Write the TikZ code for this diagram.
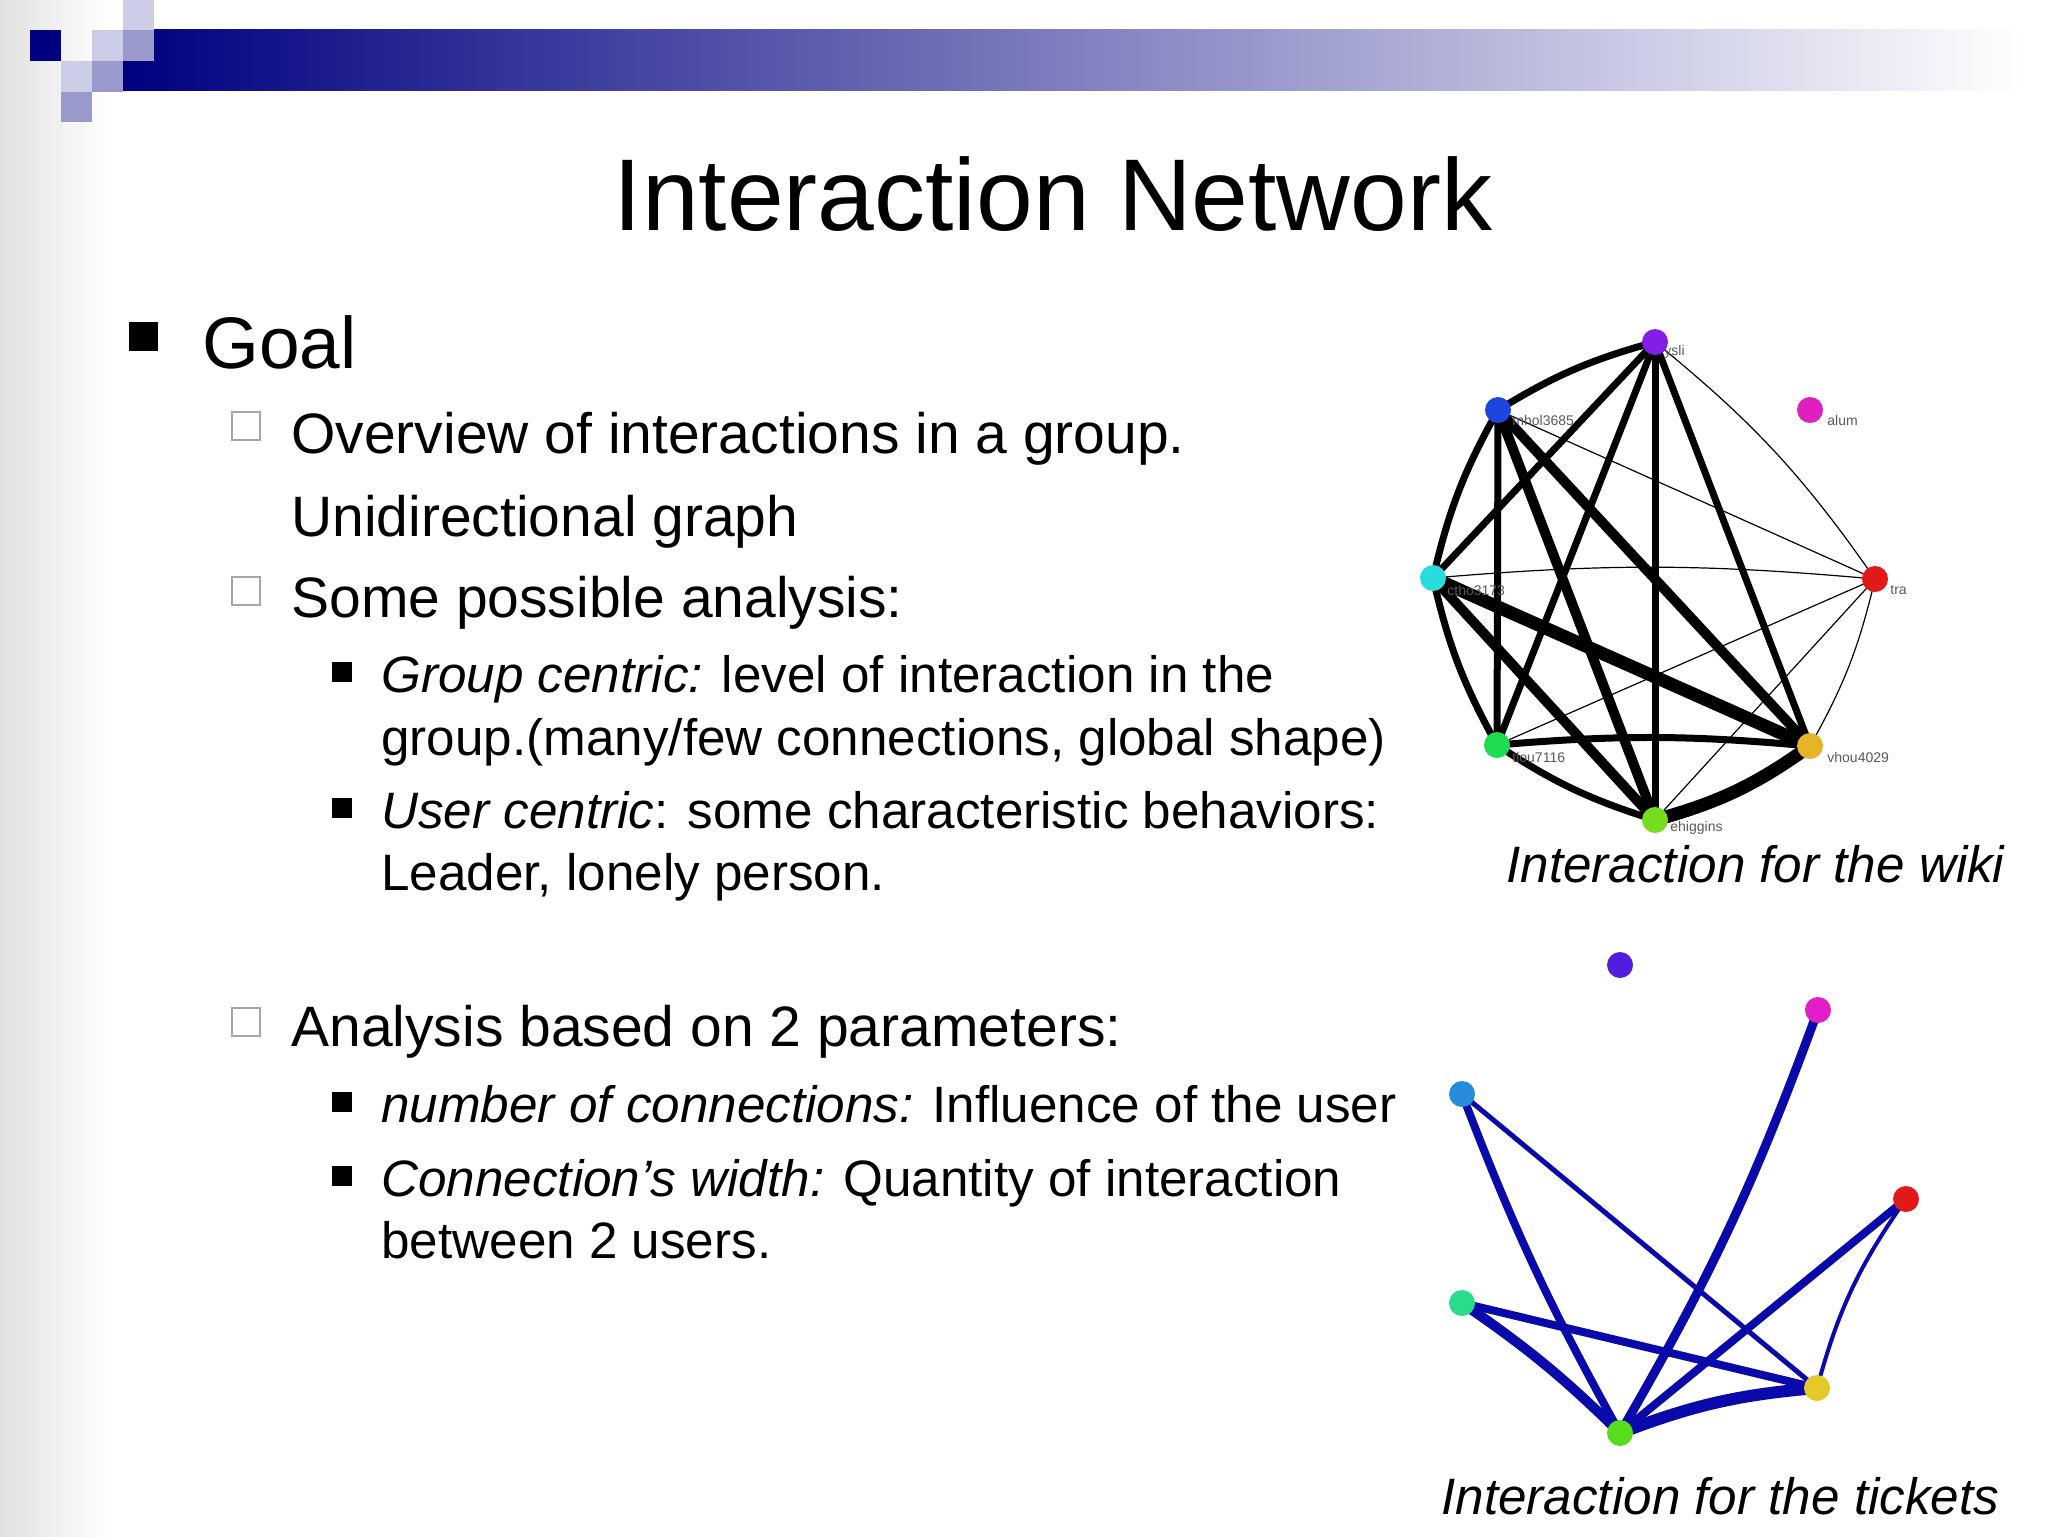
\documentclass[tikz,border=0pt]{standalone}
\usepackage{fontspec}
\setmainfont{Liberation Sans}
\definecolor{navy}{RGB}{0,0,128}
\definecolor{sqlight}{RGB}{204,204,230}
\definecolor{sqmid}{RGB}{153,153,204}
\definecolor{edgeb}{RGB}{10,10,170}
\begin{document}
\begin{tikzpicture}[x=0.5pt,y=-0.5pt,
  gnode/.style={circle,inner sep=0pt,minimum size=13pt},
  glabel/.style={font=\fontsize{7}{8}\selectfont,text=black!65,anchor=west,inner sep=1pt},
  we/.style={line width=3.5pt,black},
  wthick/.style={line width=5pt,black},
  wvthick/.style={line width=6.5pt,black},
  wthin/.style={line width=0.6pt,black},
  te/.style={edgeb,line width=#1},
  t1/.style={anchor=base west,inner sep=0pt,font=\fontsize{36.5}{40}\selectfont},
  t2/.style={anchor=base west,inner sep=0pt,font=\fontsize{28.5}{32}\selectfont},
  t3/.style={anchor=base west,inner sep=0pt,font=\fontsize{25.6}{28}\selectfont},
  captext/.style={anchor=base west,inner sep=0pt,font=\fontsize{25.6}{30}\itshape\selectfont}]
\useasboundingbox (0,0) rectangle (2048,1536);
\fill[white] (0,0) rectangle (2048,1536);
\shade[left color=black!12,right color=white] (0,0) rectangle (110,1536);
% header decoration
\shade[left color=navy,right color=white] (123,30) rectangle (2025,91);
\fill[navy] (30,30) rectangle (61,61);
\fill[sqlight] (92,30) rectangle (123,61);
\fill[sqlight] (123,0) rectangle (154,30);
\fill[sqmid] (123,30) rectangle (154,61);
\fill[sqlight] (61,61) rectangle (92,92);
\fill[sqmid] (92,61) rectangle (123,92);
\fill[sqmid] (61,92) rectangle (92,122);
% title
\node[anchor=base,inner sep=0pt,font=\fontsize{51}{56}\selectfont] (title) at (1053,230) {Interaction Network};
% bullets
\fill (129,322) rectangle (158,351);
\node[t1] (goal) at (202,368) {Goal};
\draw[black!35,line width=1.2pt] (232,412) rectangle (260,440);
\node[t2] (l1) at (291,453) {Overview of interactions in a group.};
\node[t2] (l2) at (291,536) {Unidirectional graph};
\draw[black!35,line width=1.2pt] (232,577) rectangle (260,605);
\node[t2] (l3) at (291,617) {Some possible analysis:};
\fill (332,662) rectangle (352,682);
\node[t3] (l4) at (381,692) {\itshape Group centric:\upshape{} level of interaction in the};
\node[t3] (l5) at (381,755) {group.(many/few connections, global shape)};
\fill (332,798) rectangle (352,818);
\node[t3] (l6) at (381,828) {\itshape User centric\upshape: some characteristic behaviors:};
\node[t3] (l7) at (381,890) {Leader, lonely person.};
\draw[black!35,line width=1.2pt] (232,1008) rectangle (260,1036);
\node[t2] (l8) at (291,1046) {Analysis based on 2 parameters:};
\fill (332,1092) rectangle (352,1112);
\node[t3] (l9) at (381,1122) {\itshape number of connections:\upshape{} Influence of the user};
\fill (332,1166) rectangle (352,1186);
\node[t3] (l10) at (381,1196) {\itshape Connection’s width:\upshape{} Quantity of interaction};
\node[t3] (l11) at (381,1258) {between 2 users.};
% wiki graph
\coordinate (ysli) at (1655,342);
\coordinate (mhol) at (1498,410);
\coordinate (alum) at (1810,410);
\coordinate (ctho) at (1433,578);
\coordinate (tra) at (1875,579);
\coordinate (tlou) at (1497,745);
\coordinate (vhou) at (1810,746);
\coordinate (ehig) at (1655,820);
\draw[we] (ysli) to[bend right=8] (mhol);
\draw[we] (ysli) -- (ctho);
\draw[we] (ysli) -- (tlou);
\draw[we] (ysli) -- (ehig);
\draw[we] (ysli) -- (vhou);
\draw[wthin] (tra) to[bend right=8] (ysli);
\draw[we] (mhol) to[bend right=8] (ctho);
\draw[we] (mhol) -- (tlou);
\draw[wthick] (mhol) -- (ehig);
\draw[wthick] (mhol) -- (vhou);
\draw[wthin] (mhol) -- (tra);
\draw[wthin] (ctho) to[bend left=5] (tra);
\draw[wvthick] (ctho) -- (vhou);
\draw[wthick] (ctho) -- (ehig);
\draw[we] (ctho) to[bend right=8] (tlou);
\draw[we] (tlou) to[bend left=5] (vhou);
\draw[we] (tlou) to[bend right=8] (ehig);
\draw[wthin] (tlou) -- (tra);
\draw[wvthick] (ehig) to[bend right=10] (vhou);
\draw[wthin] (ehig) -- (tra);
\draw[wthin] (vhou) to[bend right=8] (tra);
\node[gnode,fill={rgb,255:red,130;green,30;blue,230}] (nysli) at (ysli) {};
\node[gnode,fill={rgb,255:red,30;green,70;blue,220}] (nmhol) at (mhol) {};
\node[gnode,fill={rgb,255:red,225;green,30;blue,190}] (nalum) at (alum) {};
\node[gnode,fill={rgb,255:red,40;green,220;blue,220}] (nctho) at (ctho) {};
\node[gnode,fill={rgb,255:red,225;green,25;blue,25}] (ntra) at (tra) {};
\node[gnode,fill={rgb,255:red,30;green,220;blue,80}] (ntlou) at (tlou) {};
\node[gnode,fill={rgb,255:red,230;green,180;blue,40}] (nvhou) at (vhou) {};
\node[gnode,fill={rgb,255:red,120;green,220;blue,30}] (nehig) at (ehig) {};
\node[glabel] (lysli) at (1662,352) {ysli};
\node[glabel] (lmhol) at (1510,420) {mhol3685};
\node[glabel] (lalum) at (1825,420) {alum};
\node[glabel] (lctho) at (1445,590) {ctho3173};
\node[glabel] (ltra) at (1888,590) {tra};
\node[glabel] (ltlou) at (1510,757) {tlou7116};
\node[glabel] (lvhou) at (1825,757) {vhou4029};
\node[glabel] (lehig) at (1668,828) {ehiggins};
\node[captext] (cap1) at (1506,882) {Interaction for the wiki};
% tickets graph
\coordinate (tp) at (1620,965);
\coordinate (tm) at (1818,1010);
\coordinate (tb) at (1462,1094);
\coordinate (tr) at (1906,1199);
\coordinate (tt) at (1462,1303);
\coordinate (ty) at (1817,1388);
\coordinate (tg) at (1620,1433);
\draw[te=4pt] (tb) to[bend right=4] (tg);
\draw[te=2.5pt] (tb) -- (ty);
\draw[te=4.5pt] (tg) to[bend right=5] (tm);
\draw[te=4pt] (tg) -- (tr);
\draw[te=2pt] (ty) to[bend left=10] (tr);
\draw[te=4pt] (tt) -- (ty);
\draw[te=5pt] (tt) to[bend left=5] (tg);
\draw[te=6pt] (tg) to[bend left=8] (ty);
\node[gnode,fill={rgb,255:red,80;green,30;blue,220}] (np) at (tp) {};
\node[gnode,fill={rgb,255:red,225;green,30;blue,200}] (nm) at (tm) {};
\node[gnode,fill={rgb,255:red,40;green,140;blue,220}] (nb) at (tb) {};
\node[gnode,fill={rgb,255:red,225;green,25;blue,25}] (nr) at (tr) {};
\node[gnode,fill={rgb,255:red,40;green,220;blue,140}] (nt) at (tt) {};
\node[gnode,fill={rgb,255:red,230;green,200;blue,40}] (ny) at (ty) {};
\node[gnode,fill={rgb,255:red,90;green,220;blue,30}] (ng) at (tg) {};
\node[captext] (cap2) at (1441,1514) {Interaction for the tickets};
\end{tikzpicture}
\end{document}
